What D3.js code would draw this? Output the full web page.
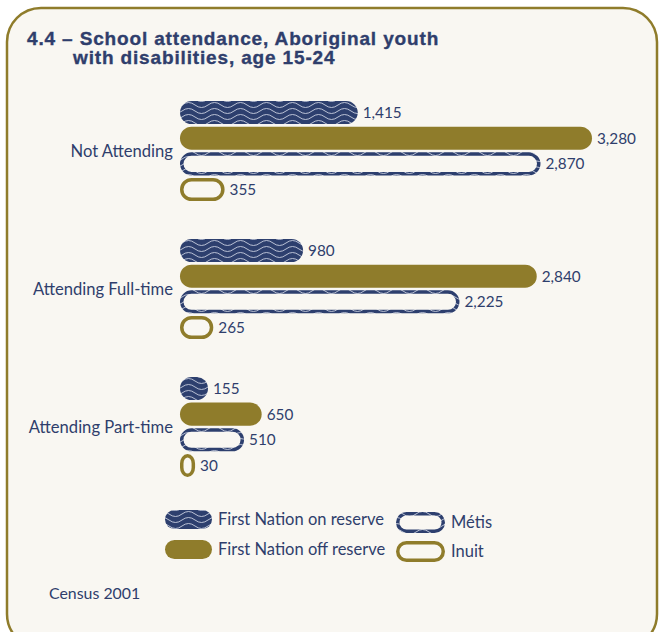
<!DOCTYPE html>
<html>
<head>
<meta charset="utf-8">
<script src="https://cdn.jsdelivr.net/npm/d3@7/dist/d3.min.js"></script>
<style>
  html, body { margin: 0; padding: 0; background: #ffffff; }
  svg { display: block; }
</style>
</head>
<body>
<svg id="chart" width="659" height="632"></svg>
<script>
// Attendance categories (top to bottom)
const categories = ["Not Attending", "Attending Full-time", "Attending Part-time"];
// Population groups, drawn as bars inside each category
const series = ["First Nation on reserve", "First Nation off reserve", "Métis", "Inuit"];
// Counts per category, one array per group
const onReserve  = [1415, 980, 155];
const offReserve = [3280, 2840, 650];
const metis      = [2870, 2225, 510];
const inuit      = [355, 265, 30];

const valuesBySeries = [onReserve, offReserve, metis, inuit];

const navy = "#2d3f6e";
const gold = "#8f7c2b";
const paper = "#f9f7f2";
const textNavy = "#2f3e6c";

const svg = d3.select("#chart");

// Pattern: navy ground with pale wavy lines
const defs = svg.append("defs");
const pat = defs.append("pattern")
  .attr("id", "waves")
  .attr("patternUnits", "userSpaceOnUse")
  .attr("width", 26).attr("height", 6)
  .attr("y", 1);
pat.append("rect").attr("width", 26).attr("height", 6).attr("fill", navy);
[-6, 0, 6].forEach(dy => {
  pat.append("path")
    .attr("d", `M0,${3 + dy} Q6.5,${-2 + dy} 13,${3 + dy} T26,${3 + dy}`)
    .attr("fill", "none")
    .attr("stroke", "#c9cfe0")
    .attr("stroke-width", 0.9);
});

// Frame
svg.append("rect")
  .attr("x", 7).attr("y", 8)
  .attr("width", 650).attr("height", 640)
  .attr("rx", 34).attr("ry", 34)
  .attr("fill", paper)
  .attr("stroke", gold)
  .attr("stroke-width", 2.5);

// Title
const title = svg.append("text")
  .attr("fill", textNavy)
  .attr("stroke", textNavy)
  .attr("stroke-width", 0.35)
  .attr("font-family", "Liberation Sans, Arial, sans-serif")
  .attr("font-weight", "bold")
  .attr("font-size", 19)
  .attr("letter-spacing", 0.85);
title.append("tspan").attr("x", 27).attr("y", 44.5).text("4.4 – School attendance, Aboriginal youth");
title.append("tspan").attr("x", 73).attr("y", 63.5).text("with disabilities, age 15-24");

// Scales
const x0 = 180;
const x = d3.scaleLinear().domain([0, 3280]).range([x0, 592]);
const y = d3.scaleBand().domain(categories).range([101, 477]).paddingInner(0.275).paddingOuter(0);
const ySub = d3.scaleBand().domain(series).range([0, y.bandwidth()]).paddingInner(0.1).paddingOuter(0);

const labelFont = "Lato, 'Noto Sans', sans-serif";
const fmt = d3.format(",");

// Bar length: very small counts keep a rounded minimum shape
function barWidth(v) {
  const w = x(v) - x0;
  return Math.max(w, Math.min(28, 4 * w));
}

const styles = [
  { fill: "url(#waves)", stroke: "none", sw: 0 },
  { fill: gold, stroke: "none", sw: 0 },
  { fill: paper, stroke: "url(#waves)", sw: 3.5 },
  { fill: paper, stroke: gold, sw: 3.5 }
];

const groups = svg.append("g").selectAll("g")
  .data(categories)
  .join("g")
  .attr("transform", d => `translate(0,${y(d)})`);

// Category labels
groups.append("text")
  .attr("x", 173)
  .attr("y", y.bandwidth() / 2)
  .attr("dy", "0.35em")
  .attr("text-anchor", "end")
  .attr("fill", textNavy)
  .attr("font-family", labelFont)
  .attr("font-size", 16.6)
  .text(d => d);

groups.each(function(cat, ci) {
  const g = d3.select(this);
  series.forEach((s, si) => {
    const v = valuesBySeries[si][ci];
    const st = styles[si];
    const h = ySub.bandwidth();
    const w = barWidth(v);
    const inset = st.sw / 2;
    g.append("rect")
      .attr("x", x0 + inset)
      .attr("y", ySub(s) + inset)
      .attr("width", Math.max(w - 2 * inset, 1))
      .attr("height", h - 2 * inset)
      .attr("rx", Math.min((h - 2 * inset) / 2, (w - 2 * inset) / 2 + 2))
      .attr("fill", st.fill)
      .attr("stroke", st.stroke)
      .attr("stroke-width", st.sw);
    g.append("text")
      .attr("x", x0 + w + 5)
      .attr("y", ySub(s) + h / 2)
      .attr("dy", "0.35em")
      .attr("fill", textNavy)
      .attr("font-family", labelFont)
      .attr("font-size", 15.3)
      .text(fmt(v));
  });
});

// Legend
const legendItems = [
  { name: series[0], x: 165, y: 510, w: 47, h: 19 },
  { name: series[1], x: 165, y: 540, w: 47, h: 19 },
  { name: series[2], x: 396, y: 512, w: 49, h: 21 },
  { name: series[3], x: 396, y: 541, w: 49, h: 21 }
];
const leg = svg.append("g").selectAll("g")
  .data(legendItems)
  .join("g");
leg.append("rect")
  .attr("x", (d, i) => d.x + styles[i].sw / 2)
  .attr("y", (d, i) => d.y + styles[i].sw / 2)
  .attr("width", (d, i) => d.w - styles[i].sw)
  .attr("height", (d, i) => d.h - styles[i].sw)
  .attr("rx", (d, i) => (d.h - styles[i].sw) / 2)
  .attr("fill", (d, i) => styles[i].fill)
  .attr("stroke", (d, i) => styles[i].stroke)
  .attr("stroke-width", (d, i) => styles[i].sw);
leg.append("text")
  .attr("x", d => d.x + d.w + 6)
  .attr("y", d => d.y + d.h / 2)
  .attr("dy", "0.35em")
  .attr("fill", textNavy)
  .attr("font-family", labelFont)
  .attr("font-size", 16.5)
  .text(d => d.name);

// Source note
svg.append("text")
  .attr("x", 49).attr("y", 599)
  .attr("fill", textNavy)
  .attr("font-family", labelFont)
  .attr("font-size", 15.9)
  .text("Census 2001");
</script>
</body>
</html>
